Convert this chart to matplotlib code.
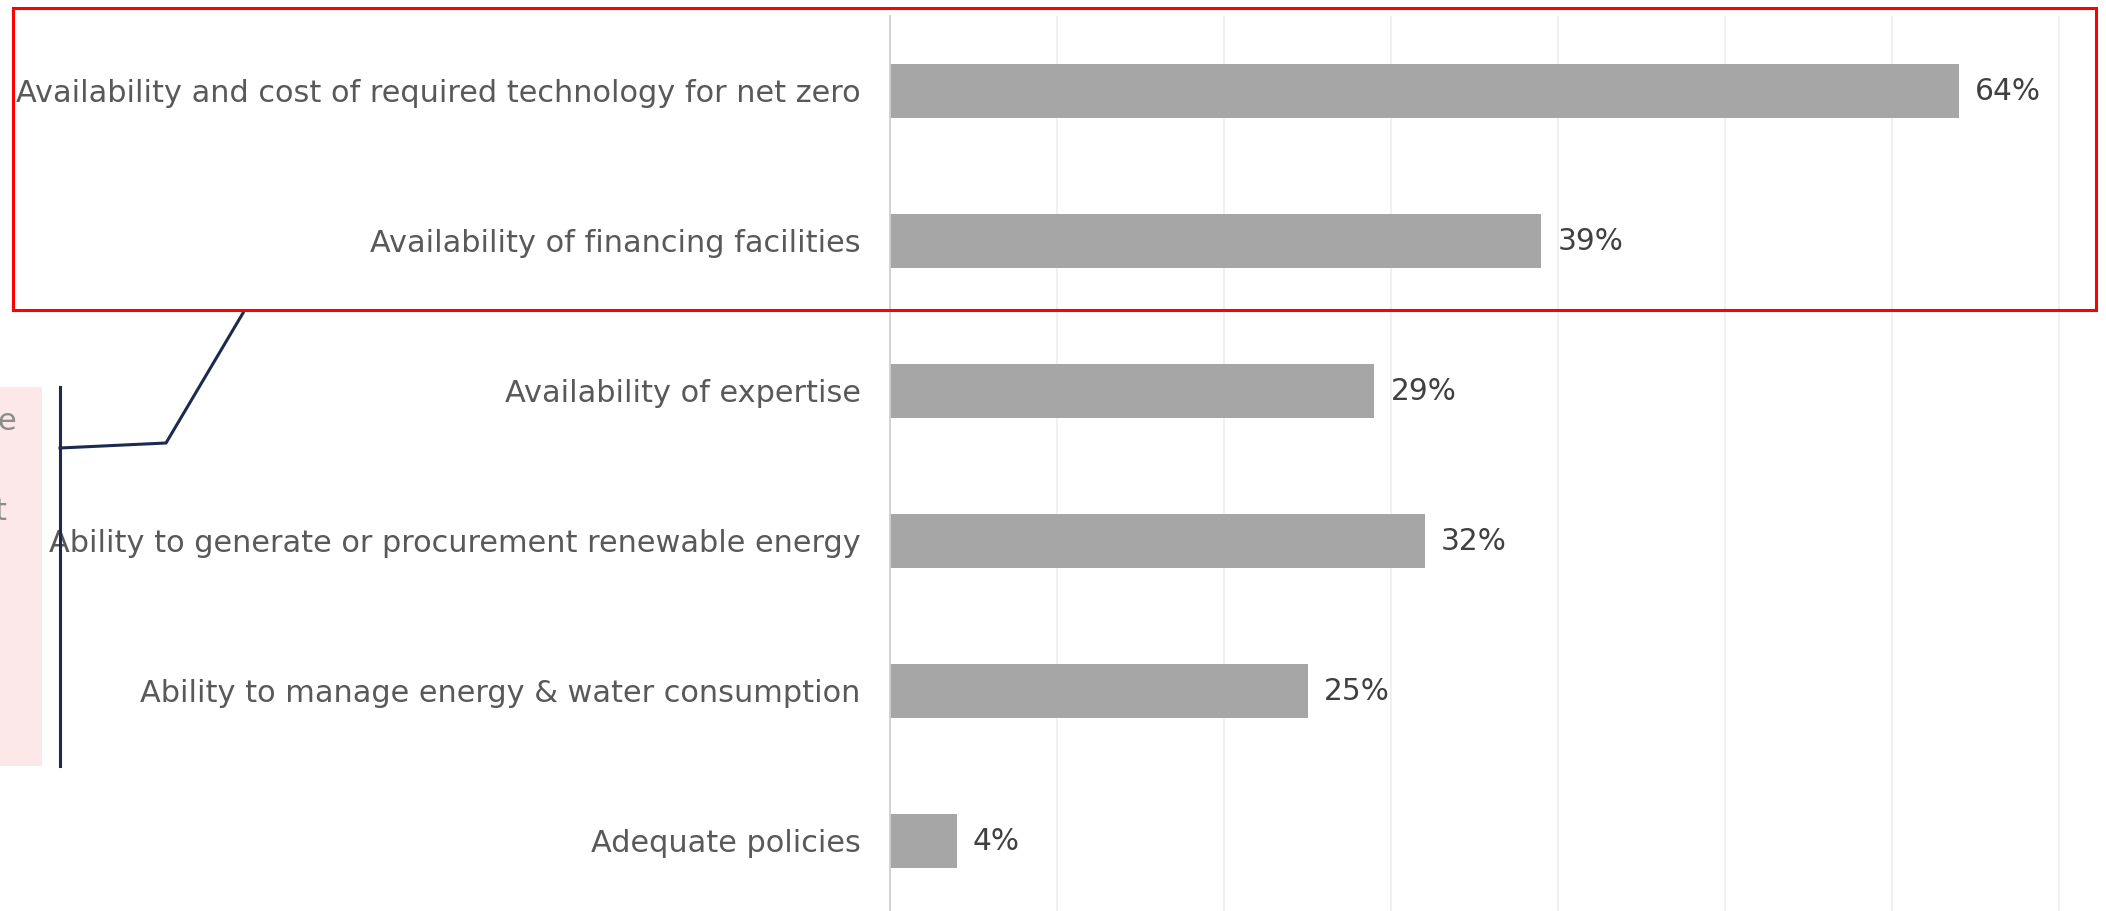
import matplotlib
matplotlib.use("Agg")
import matplotlib.pyplot as plt
from matplotlib.patches import Rectangle
from matplotlib.lines import Line2D

categories = [
    "Availability and cost of required technology for net zero",
    "Availability of financing facilities",
    "Availability of expertise",
    "Ability to generate or procurement renewable energy",
    "Ability to manage energy & water consumption",
    "Adequate policies",
]
values = [64, 39, 29, 32, 25, 4]
value_labels = ["64%", "39%", "29%", "32%", "25%", "4%"]
grid_ticks = [10, 20, 30, 40, 50, 60, 70]

W, H = 2106, 911
fig = plt.figure(figsize=(W / 100, H / 100), dpi=100)
fig.patch.set_facecolor("white")
plt.rcParams["font.family"] = ["DejaVu Sans"]

def px(x0, y0, x1, y1):
    return [x0 / W, 1 - y1 / H, (x1 - x0) / W, (y1 - y0) / H]

ax = fig.add_axes(px(890, 16, 2106, 916))
ax.set_xlim(0, 72.8)
ax.set_ylim(5.5, -0.5)
y = list(range(len(categories)))
ax.barh(y, values, height=0.36, color="#a6a6a6", zorder=2)
for t in grid_ticks:
    ax.axvline(t, color="#efefef", lw=1.3, zorder=1)
for s in ["top", "right", "bottom"]:
    ax.spines[s].set_visible(False)
ax.spines["left"].set_color("#d0d0d0")
ax.spines["left"].set_linewidth(1.3)
ax.set_xticks([])
ax.set_yticks(y)
ax.set_yticklabels(categories, fontsize=21.9, color="#595959")
ax.tick_params(axis="y", length=0, pad=21)
for yi, v, lab in zip(y, values, value_labels):
    ax.annotate(lab, (v, yi), xytext=(16, 0), textcoords="offset pixels",
                va="center", ha="left", fontsize=21.3, color="#404040")

# pink side panel and clipped text fragments (continuing off the left edge)
fig.patches.append(Rectangle((0, 1 - 766 / H), 42 / W, (766 - 387) / H,
                             transform=fig.transFigure, facecolor="#fce8e8",
                             edgecolor="none", zorder=0))
fig.text(-3 / W, 1 - 421 / H, "e", fontsize=22, color="#8c8c8c", va="center", ha="left")
fig.text(-6 / W, 1 - 511 / H, "t", fontsize=22, color="#8c8c8c", va="center", ha="left")

# navy bracket connector
navy = "#1b2a4e"
fig.add_artist(Line2D([60 / W, 60 / W], [1 - 387 / H, 1 - 766 / H],
                      transform=fig.transFigure, color=navy, lw=2.2))
fig.add_artist(Line2D([60 / W, 166 / W, 243 / W], [1 - 448 / H, 1 - 443 / H, 1 - 313 / H],
                      transform=fig.transFigure, color=navy, lw=2.2))

# red highlight rectangle
fig.patches.append(Rectangle((13 / W, 1 - 310 / H), (2096 - 13) / W, (310 - 8) / H,
                             transform=fig.transFigure, facecolor="none",
                             edgecolor="#ff0000", lw=2.2, zorder=10))

fig.savefig("out.png", dpi=100, facecolor="white")
